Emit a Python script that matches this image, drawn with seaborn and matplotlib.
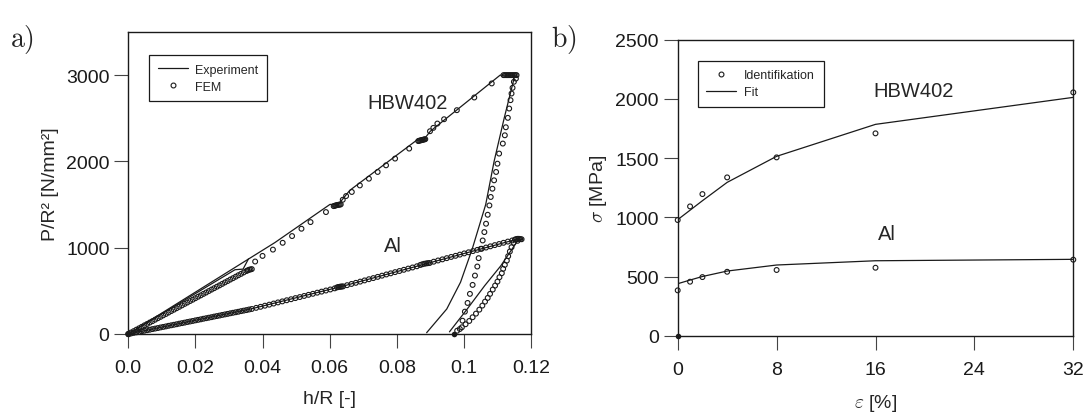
import numpy as np
import pandas as pd
import matplotlib
matplotlib.use("Agg")
import matplotlib.pyplot as plt
from matplotlib.lines import Line2D
import seaborn as sns

# ---------------- data: panel a (h/R vs P/R^2) ----------------
# Experiment, HBW402 (main loading + unloading path)
hbw_exp_x = [0.0, 0.0437, 0.0601, 0.0626, 0.0660, 0.0859, 0.0880, 0.0900, 0.1108, 0.1152,
             0.1120, 0.1090, 0.1065, 0.1025, 0.0990, 0.0949, 0.0889]
hbw_exp_y = [0, 1060, 1502, 1502, 1665, 2245, 2250, 2350, 3000, 3000,
             2500, 2000, 1500, 987, 600, 290, 15]
# Experiment, HBW402 first hold segment
hbw_exp2_x = [0.0, 0.0318, 0.0342, 0.0358]
hbw_exp2_y = [0, 745, 752, 870]

# Experiment, Al
al_exp_x = [0.0, 0.0365, 0.0636, 0.0894, 0.1160, 0.1177, 0.1160, 0.1110, 0.1062, 0.1010, 0.0957]
al_exp_y = [0, 290, 551, 821, 1100, 1100, 1080, 790, 560, 290, 25]

# FEM, HBW402
hbw_fem_x = [0.0000, 0.0008, 0.0016, 0.0024, 0.0032, 0.0040, 0.0048, 0.0056, 0.0064, 0.0072,
             0.0080, 0.0088, 0.0096, 0.0104, 0.0112, 0.0120, 0.0128, 0.0136, 0.0144, 0.0152,
             0.0160, 0.0168, 0.0176, 0.0184, 0.0192, 0.0200, 0.0208, 0.0216, 0.0224, 0.0232,
             0.0240, 0.0248, 0.0256, 0.0264, 0.0272, 0.0280, 0.0288, 0.0296, 0.0304, 0.0312,
             0.0320, 0.0328, 0.0336, 0.0344, 0.0352, 0.0356, 0.0360, 0.0364, 0.0368,
             0.0378, 0.0400, 0.0431, 0.0460, 0.0488, 0.0516, 0.0543, 0.0589,
             0.0612, 0.0615, 0.0618, 0.0621, 0.0624, 0.0627, 0.0630, 0.0633,
             0.0639, 0.0649, 0.0666, 0.0690, 0.0717, 0.0743, 0.0768, 0.0795, 0.0837,
             0.0864, 0.0867, 0.0870, 0.0873, 0.0876, 0.0879, 0.0882, 0.0885,
             0.0899, 0.0909, 0.0921, 0.0941, 0.0979, 0.1031, 0.1083,
             0.1118, 0.1122, 0.1126, 0.1130, 0.1134, 0.1138, 0.1142, 0.1146, 0.1150, 0.1154, 0.1157,
             0.1155, 0.1149, 0.1145, 0.1142, 0.1139, 0.1135, 0.1131, 0.1125, 0.1122, 0.1116,
             0.1105, 0.1100, 0.1096, 0.1090, 0.1085, 0.1080, 0.1076, 0.1071, 0.1066, 0.1061,
             0.1056, 0.1050, 0.1044, 0.1040, 0.1033, 0.1026, 0.1018, 0.1011, 0.1003, 0.0996,
             0.0988]
hbw_fem_y = [0, 17, 33, 50, 66, 83, 100, 116, 133, 149,
             166, 183, 199, 216, 232, 249, 266, 282, 299, 315,
             332, 349, 365, 382, 398, 415, 432, 448, 465, 481,
             498, 515, 531, 548, 564, 581, 598, 614, 631, 647,
             664, 681, 697, 714, 730, 738, 745, 748, 752,
             840, 905, 978, 1057, 1135, 1220, 1297, 1413,
             1482, 1486, 1490, 1493, 1496, 1498, 1500, 1502,
             1556, 1599, 1646, 1722, 1800, 1878, 1955, 2033, 2149,
             2236, 2240, 2243, 2246, 2249, 2252, 2255, 2258,
             2350, 2389, 2439, 2489, 2594, 2741, 2904,
             3000, 3000, 3000, 3000, 3000, 3000, 3000, 3000, 3000, 3000, 3000,
             2960, 2923, 2853, 2787, 2710, 2613, 2505, 2396, 2303, 2207,
             2091, 1974, 1878, 1781, 1684, 1588, 1490, 1382, 1278, 1181,
             1084, 987, 879, 782, 677, 569, 465, 360, 259, 154,
             58]

# FEM, Al
al_fem_x = [0.0000, 0.0008, 0.0016, 0.0024, 0.0032, 0.0040, 0.0048, 0.0056, 0.0064, 0.0072,
            0.0080, 0.0088, 0.0096, 0.0104, 0.0112, 0.0120, 0.0128, 0.0136, 0.0144, 0.0152,
            0.0160, 0.0168, 0.0176, 0.0184, 0.0192, 0.0200, 0.0208, 0.0216, 0.0224, 0.0232,
            0.0240, 0.0248, 0.0256, 0.0264, 0.0272, 0.0280, 0.0288, 0.0296, 0.0304, 0.0312,
            0.0320, 0.0328, 0.0336, 0.0344, 0.0352, 0.0360, 0.0368,
            0.0381, 0.0394, 0.0407, 0.0420, 0.0433, 0.0446, 0.0459, 0.0472, 0.0485, 0.0498,
            0.0511, 0.0524, 0.0537, 0.0550, 0.0563, 0.0576, 0.0589, 0.0602, 0.0615,
            0.0622, 0.0626, 0.0630, 0.0633, 0.0636, 0.0640,
            0.0652, 0.0665, 0.0678, 0.0691, 0.0704, 0.0717, 0.0730, 0.0743, 0.0756, 0.0769,
            0.0782, 0.0795, 0.0808, 0.0821, 0.0834, 0.0847, 0.0860,
            0.0870, 0.0876, 0.0882, 0.0888, 0.0893, 0.0898,
            0.0910, 0.0923, 0.0936, 0.0949, 0.0962, 0.0975, 0.0988, 0.1001, 0.1014, 0.1027,
            0.1040, 0.1053, 0.1066, 0.1079, 0.1092, 0.1105, 0.1118, 0.1131, 0.1144,
            0.1152, 0.1156, 0.1160, 0.1164, 0.1168, 0.1172,
            0.1160, 0.1148, 0.1142, 0.1137, 0.1132, 0.1128, 0.1122, 0.1117, 0.1113, 0.1106,
            0.1100, 0.1093, 0.1086, 0.1078, 0.1071, 0.1063, 0.1055, 0.1046, 0.1036, 0.1026,
            0.1016, 0.1005, 0.0994, 0.0980]
al_fem_y = [0, 6, 13, 19, 25, 32, 38, 44, 50, 57,
            63, 69, 76, 82, 88, 95, 101, 107, 113, 120,
            126, 132, 139, 145, 151, 158, 164, 170, 177, 183,
            189, 195, 202, 208, 214, 221, 227, 233, 240, 246,
            252, 258, 265, 271, 277, 284, 290,
            303, 315, 328, 340, 353, 366, 378, 391, 403, 416,
            428, 441, 454, 466, 479, 491, 504, 516, 529,
            540, 545, 547, 549, 550, 552,
            566, 580, 593, 607, 621, 635, 648, 662, 676, 690,
            703, 717, 730, 744, 758, 771, 785,
            800, 808, 814, 818, 821, 823,
            838, 852, 865, 879, 893, 906, 920, 934, 947, 961,
            975, 988, 1002, 1016, 1030, 1043, 1057, 1071, 1084,
            1094, 1100, 1103, 1103, 1100, 1098,
            1080, 1057, 1006, 956, 902, 851, 801, 755, 705, 658,
            607, 561, 515, 465, 418, 375, 329, 282, 236, 194,
            151, 113, 78, 38]

end_a_x = [0.0, 0.0972]
end_a_y = [0, 0]

a_xticks = [0.0, 0.02, 0.04, 0.06, 0.08, 0.1, 0.12]
a_xticklabels = ["0.0", "0.02", "0.04", "0.06", "0.08", "0.1", "0.12"]
a_yticks = [0, 1000, 2000, 3000]

# ---------------- data: panel b (strain vs stress) ----------------
eps = [0, 1, 2, 4, 8, 16, 32]
hbw_ident = [977, 1092, 1196, 1337, 1506, 1709, 2055]
hbw_fit = [980, 1060, 1140, 1295, 1515, 1785, 2013]
al_ident = [383, 456, 495, 540, 555, 574, 642]
al_fit = [439, 470, 500, 546, 597, 633, 645]
b_xticks = [0, 8, 16, 24, 32]
b_yticks = [0, 500, 1000, 1500, 2000, 2500]

# ---------------- style ----------------
sns.set_theme(style="ticks")
plt.rcParams["font.family"] = ["Liberation Sans", "DejaVu Sans"]
plt.rcParams["mathtext.fontset"] = "cm"

W, H = 1088, 414
fig = plt.figure(figsize=(W / 100, H / 100), dpi=100)
ax1 = fig.add_axes([128.3 / W, (H - 335) / H, 402.7 / W, 302 / H])
ax2 = fig.add_axes([677.7 / W, (H - 336.7) / H, 395.6 / W, 296 / H])

LW = 0.9
MS = 12
ring = dict(color="k", facecolors="none", edgecolor="k", linewidth=0.8, s=MS,
            marker="o", clip_on=False, legend=False, zorder=3)

# panel a
for xs, ys in [(hbw_exp_x, hbw_exp_y), (hbw_exp2_x, hbw_exp2_y), (al_exp_x, al_exp_y)]:
    sns.lineplot(x=xs, y=ys, sort=False, estimator=None, color="k", lw=LW, ax=ax1)
sns.scatterplot(x=hbw_fem_x, y=hbw_fem_y, ax=ax1, **ring)
sns.scatterplot(x=al_fem_x, y=al_fem_y, ax=ax1, **ring)
sns.scatterplot(x=end_a_x, y=end_a_y, ax=ax1, color="k", s=16, linewidth=0, clip_on=False,
                legend=False, zorder=4)

ax1.set_xlim(0, 0.12)
ax1.set_ylim(0, 3500)
ax1.set_xticks(a_xticks)
ax1.set_xticklabels(a_xticklabels)
ax1.set_yticks(a_yticks)
ax1.set_xlabel("h/R [-]", fontsize=14, labelpad=10)
ax1.set_ylabel("P/R² [N/mm²]", fontsize=14, labelpad=5)
ax1.text(0.0833, 2683, "HBW402", fontsize=14.5, ha="center", va="center")
ax1.text(0.0789, 1022, "Al", fontsize=14.5, ha="center", va="center")

h_exp = Line2D([], [], color="k", lw=LW)
h_fem = Line2D([], [], color="k", marker="o", ls="", mfc="none", mew=0.8, ms=3.5)
leg1 = ax1.legend([h_exp, h_fem], ["Experiment", "FEM"], loc="upper left",
                  bbox_to_anchor=(0.052, 0.924), borderaxespad=0, fontsize=9,
                  fancybox=False, framealpha=1, edgecolor="k", handlelength=2.4,
                  handletextpad=0.6, borderpad=0.7, labelspacing=0.4)
leg1.get_frame().set_linewidth(0.9)

# panel b
sns.lineplot(x=eps, y=hbw_fit, sort=False, estimator=None, color="k", lw=LW, ax=ax2)
sns.lineplot(x=eps, y=al_fit, sort=False, estimator=None, color="k", lw=LW, ax=ax2)
sns.scatterplot(x=eps, y=hbw_ident, ax=ax2, **ring)
sns.scatterplot(x=eps, y=al_ident, ax=ax2, **ring)
sns.scatterplot(x=[0], y=[0], ax=ax2, color="k", s=16, linewidth=0, clip_on=False,
                legend=False, zorder=4)
ax2.set_xlim(0, 32)
ax2.set_ylim(0, 2500)
ax2.set_xticks(b_xticks)
ax2.set_yticks(b_yticks)
ax2.set_xlabel(r"$\varepsilon$ [%]", fontsize=14, labelpad=10)
ax2.set_ylabel(r"$\sigma$ [MPa]", fontsize=14, labelpad=5)
ax2.text(19.1, 2069, "HBW402", fontsize=14.5, ha="center", va="center")
ax2.text(16.9, 859, "Al", fontsize=14.5, ha="center", va="center")

h_id = Line2D([], [], color="k", marker="o", ls="", mfc="none", mew=0.8, ms=3.5)
h_fit = Line2D([], [], color="k", lw=LW)
leg2 = ax2.legend([h_id, h_fit], ["Identifikation", "Fit"], loc="upper left",
                  bbox_to_anchor=(0.0506, 0.929), borderaxespad=0, fontsize=9,
                  fancybox=False, framealpha=1, edgecolor="k", handlelength=2.4,
                  handletextpad=0.6, borderpad=0.7, labelspacing=0.4)
leg2.get_frame().set_linewidth(0.9)

for ax in (ax1, ax2):
    for s in ax.spines.values():
        s.set_visible(True)
        s.set_linewidth(1.0)
        s.set_color("k")
    ax.tick_params(axis="both", which="both", direction="out", length=10, width=0.8,
                   color="#444444", labelsize=14, labelcolor="k")
    ax.tick_params(axis="x", pad=8)
    ax.tick_params(axis="y", pad=3.5)
    ax.grid(False)

fig.text(10 / W, 1 - 40 / H, r"$\mathrm{a)}$", fontsize=20, ha="left", va="center")
fig.text(551 / W, 1 - 40 / H, r"$\mathrm{b)}$", fontsize=20, ha="left", va="center")

fig.savefig("out.png", dpi=100)
